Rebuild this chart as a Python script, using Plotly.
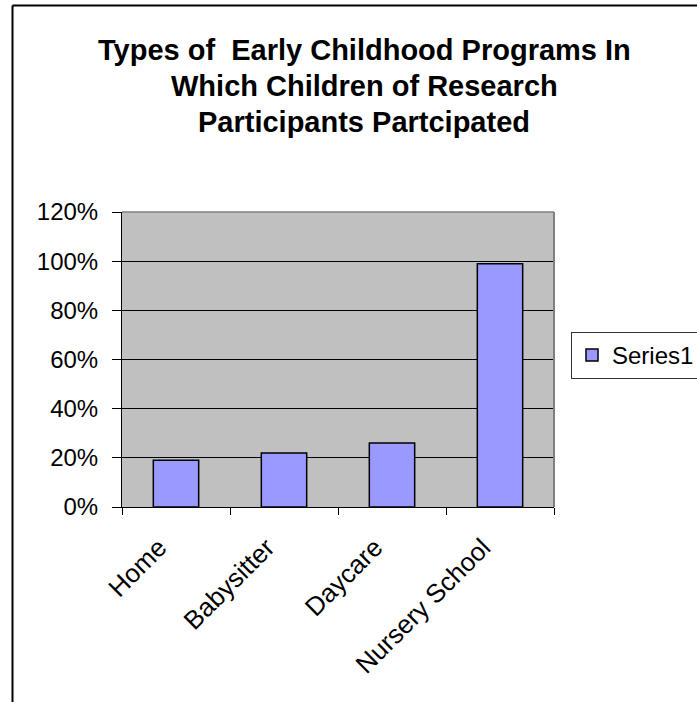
import plotly.graph_objects as go

categories = ["Home", "Babysitter", "Daycare", "Nursery School"]
values = [0.19, 0.22, 0.26, 0.99]
title_lines = ["Types of  Early Childhood Programs In",
               "Which Children of Research",
               "Participants Partcipated"]
series_name = "Series1"

W, H = 697, 702
L, R, T, B = 122, 554, 212, 507  # plot area pixels

def px(x):
    return (x - L) / (R - L)

def py(y):
    return (B - y) / (B - T)

FONT = "Arial, Liberation Sans, sans-serif"

fig = go.Figure()
fig.add_trace(go.Bar(
    x=categories, y=values, name=series_name,
    marker=dict(color="#9999FF", line=dict(color="black", width=1.5)),
    showlegend=True,
))

shapes = [
    # plot area top and right border (gray)
    dict(type="line", xref="paper", yref="paper", x0=0, x1=1, y0=1, y1=1,
         line=dict(color="#808080", width=1.5), layer="above"),
    dict(type="line", xref="paper", yref="paper", x0=1, x1=1, y0=0, y1=1,
         line=dict(color="#808080", width=2), layer="above"),
    # outer frame: top and left
    dict(type="line", xref="paper", yref="paper", x0=px(12.5), x1=px(720), y0=py(5.5), y1=py(5.5),
         line=dict(color="black", width=2), layer="above"),
    dict(type="line", xref="paper", yref="paper", x0=px(12.5), x1=px(12.5), y0=py(5.5), y1=py(720),
         line=dict(color="black", width=2), layer="above"),
]

annotations = []
for i, line in enumerate(title_lines):
    annotations.append(dict(
        text=f"<b>{line}</b>", xref="paper", yref="paper",
        x=px(364), y=py(50 + 36 * i), xanchor="center", yanchor="middle",
        showarrow=False, font=dict(family=FONT, size=29, color="black"),
    ))

fig.update_layout(
    width=W, height=H,
    margin=dict(l=L, r=W - R, t=T, b=H - B, autoexpand=False),
    paper_bgcolor="white", plot_bgcolor="#C0C0C0",
    font=dict(family=FONT, size=24, color="black"),
    bargap=0.58,
    shapes=shapes, annotations=annotations,
    legend=dict(x=px(571), y=py(379), xanchor="left", yanchor="bottom",
                bordercolor="#333333", borderwidth=1, bgcolor="white",
                itemwidth=30,
                font=dict(family=FONT, size=24, color="black")),
)
fig.update_xaxes(
    type="category", showline=True, linecolor="black", linewidth=1,
    ticks="outside", tickson="boundaries", ticklen=7, tickcolor="black",
    tickangle=-45, showgrid=False, tickfont=dict(family=FONT, size=26),
    ticklabelstandoff=14, ticklabelshift=-17,
)
fig.update_yaxes(
    range=[0, 1.2], dtick=0.2, tickformat=".0%", showline=True, linecolor="black",
    linewidth=1, ticks="outside", ticklen=9, tickcolor="black",
    showgrid=True, gridcolor="black", gridwidth=1, zeroline=False,
    ticklabelstandoff=9, tickfont=dict(family=FONT, size=24),
)

fig.write_html("out.html", config={"displayModeBar": False},
               post_script="document.body.style.margin='0';")
